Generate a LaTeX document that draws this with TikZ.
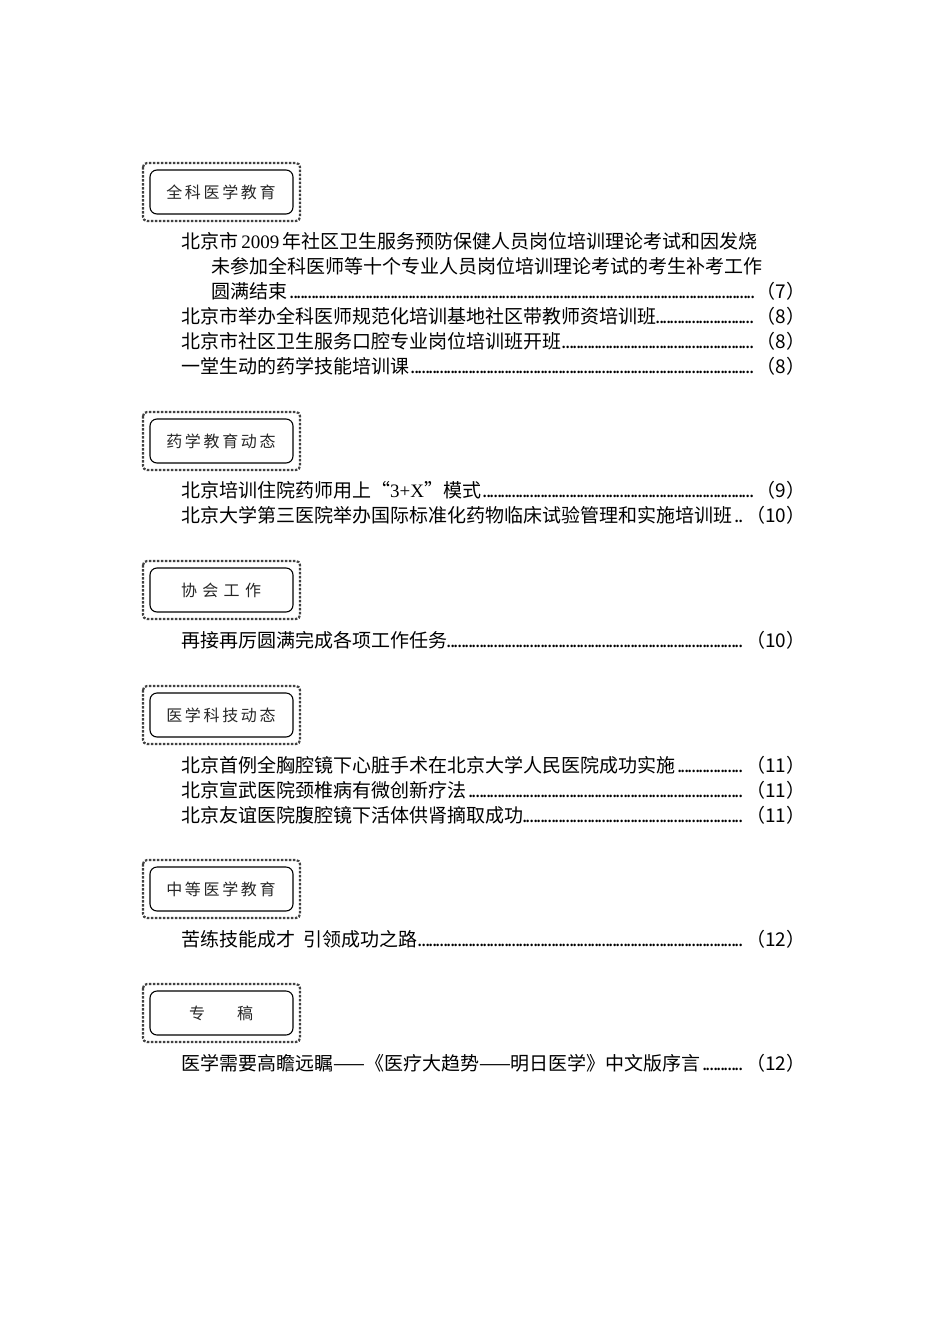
\documentclass[tikz,border=0pt]{standalone}
\usepackage{fontspec}
\setmainfont{Noto Sans CJK SC}
\newfontfamily\lat{Liberation Serif}
\begin{document}
\begin{tikzpicture}[x=1pt,y=-1pt,
  chain/.style={line width=2.2pt,dash pattern=on 2.5pt off 1.5pt,rounded corners=4pt},
  inner/.style={line width=1.1pt,rounded corners=7pt},
  head/.style={font=\fontsize{16}{16}\selectfont,text=black!85},
  ent/.style={anchor=base west,inner sep=0pt,font=\fontsize{19}{20}\selectfont}]
\useasboundingbox (0,0) rectangle (950,1344);
\newcommand\lead{\leaders\hbox to 3.6pt{\hss.\hss}\hfill}
\newcommand\boxhead[3]{%
  \draw[chain,black!75] (143,#1-29) rectangle (300,#1+29);
  \draw[inner] (150,#1-22) rectangle (293,#1+22);
  \node[head] (#2) at (221,#1) {#3};}
\newcommand\ent[6]{\node[ent] (#1) at (#2,#3) {\makebox[#6pt][l]{#4\lead（#5）}};}
\boxhead{192}{h1}{全\,科\,医\,学\,教\,育}
\node[ent] (e1a) at (181,248) {北京市{\lat\,2009\,}年社区卫生服务预防保健人员岗位培训理论考试和因发烧};
\node[ent] (e1b) at (211,273) {未参加全科医师等十个专业人员岗位培训理论考试的考生补考工作};
\ent{e1c}{211}{298}{圆满结束}{7}{594}
\ent{e2}{181}{323}{北京市举办全科医师规范化培训基地社区带教师资培训班}{8}{624}
\ent{e3}{181}{348}{北京市社区卫生服务口腔专业岗位培训班开班}{8}{624}
\ent{e4}{181}{373}{一堂生动的药学技能培训课}{8}{624}
\boxhead{441}{h2}{药\,学\,教\,育\,动\,态}
\ent{e5}{181}{497}{北京培训住院药师用上“{\lat 3+X}”模式}{9}{624}
\ent{e6}{181}{522}{北京大学第三医院举办国际标准化药物临床试验管理和实施培训班}{10}{624}
\boxhead{590}{h3}{协\,\,会\,\,工\,\,作}
\ent{e7}{181}{647}{再接再厉圆满完成各项工作任务}{10}{624}
\boxhead{715}{h4}{医\,学\,科\,技\,动\,态}
\ent{e8}{181}{772}{北京首例全胸腔镜下心脏手术在北京大学人民医院成功实施}{11}{624}
\ent{e9}{181}{797}{北京宣武医院颈椎病有微创新疗法}{11}{624}
\ent{e10}{181}{822}{北京友谊医院腹腔镜下活体供肾摘取成功}{11}{624}
\boxhead{889}{h5}{中\,等\,医\,学\,教\,育}
\ent{e11}{181}{946}{苦练技能成才\ \ 引领成功之路}{12}{624}
\boxhead{1013}{h6}{专\qquad 稿}
\ent{e12}{181}{1070}{医学需要高瞻远瞩——《医疗大趋势——明日医学》中文版序言}{12}{624}
\end{tikzpicture}
\end{document}
